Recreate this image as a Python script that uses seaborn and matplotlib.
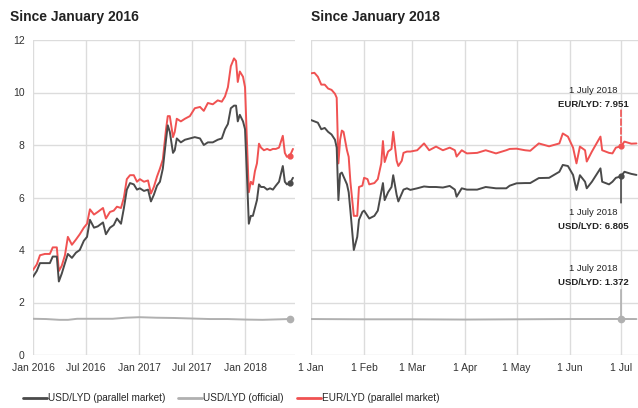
import pandas as pd
import matplotlib
matplotlib.use("Agg")
import matplotlib.pyplot as plt
from matplotlib import font_manager
import seaborn as sns

# ---- data: since January 2016 ----
dates_2016 = [
    "2016-01-01", "2016-01-14", "2016-01-25", "2016-02-11", "2016-02-28", "2016-03-09",
    "2016-03-23", "2016-03-30", "2016-04-09", "2016-04-20", "2016-04-30", "2016-05-14",
    "2016-05-28", "2016-06-10", "2016-06-24", "2016-07-05", "2016-07-15", "2016-07-29",
    "2016-08-11", "2016-08-29", "2016-09-08", "2016-09-22", "2016-10-05", "2016-10-16",
    "2016-10-30", "2016-11-09", "2016-11-19", "2016-11-30", "2016-12-13", "2016-12-24",
    "2017-01-03", "2017-01-17", "2017-01-31", "2017-02-10", "2017-02-20", "2017-03-03",
    "2017-03-13", "2017-03-23", "2017-04-03", "2017-04-09", "2017-04-16", "2017-04-27",
    "2017-05-03", "2017-05-10", "2017-05-24", "2017-06-07", "2017-06-24", "2017-07-11",
    "2017-07-29", "2017-08-11", "2017-08-25", "2017-09-11", "2017-09-28", "2017-10-12",
    "2017-10-23", "2017-11-02", "2017-11-12", "2017-11-23", "2017-11-30", "2017-12-06",
    "2017-12-13", "2017-12-24", "2017-12-31", "2018-01-06", "2018-01-13", "2018-01-20",
    "2018-01-27", "2018-02-03", "2018-02-10", "2018-02-17", "2018-02-24", "2018-03-06",
    "2018-03-17", "2018-03-27", "2018-04-06", "2018-04-16", "2018-04-27", "2018-05-10",
    "2018-05-17", "2018-05-24", "2018-06-04", "2018-06-14",
]
usd_parallel_2016 = [
    2.98, 3.20, 3.50, 3.50, 3.50, 3.75, 3.75, 2.80, 3.10, 3.50, 3.85, 3.70,
    3.90, 4.00, 4.35, 4.50, 5.15, 4.85, 4.90, 5.05, 4.60, 4.85, 4.95, 5.20,
    5.00, 5.60, 6.30, 6.55, 6.50, 6.30, 6.35, 6.25, 6.30, 5.85, 6.10, 6.45,
    6.60, 7.10, 8.20, 8.75, 8.50, 7.70, 7.80, 8.25, 8.10, 8.20, 8.25, 8.30,
    8.25, 8.00, 8.10, 8.10, 8.20, 8.25, 8.60, 8.80, 9.40, 9.50, 9.50, 8.90,
    9.15, 8.90, 8.60, 7.00, 5.00, 5.30, 5.30, 5.60, 5.90, 6.50, 6.40, 6.40,
    6.30, 6.35, 6.30, 6.45, 6.60, 7.20, 6.60, 6.50, 6.55, 6.75,
]
eur_parallel_2016 = [
    3.24, 3.45, 3.80, 3.85, 3.85, 4.10, 4.10, 3.20, 3.40, 3.80, 4.50, 4.20,
    4.40, 4.60, 4.85, 5.00, 5.55, 5.35, 5.45, 5.60, 5.20, 5.45, 5.50, 5.65,
    5.60, 6.00, 6.70, 6.85, 6.85, 6.60, 6.70, 6.60, 6.65, 6.15, 6.40, 6.80,
    7.10, 7.45, 8.60, 9.10, 9.10, 8.30, 8.50, 9.00, 8.90, 9.00, 9.10, 9.40,
    9.45, 9.30, 9.60, 9.55, 9.70, 9.65, 9.85, 10.20, 11.00, 11.30, 11.20, 10.40,
    10.80, 10.60, 10.20, 8.30, 6.20, 6.60, 6.50, 7.00, 7.30, 8.05, 7.90, 7.80,
    7.85, 7.80, 7.85, 7.85, 7.90, 8.35, 7.70, 7.55, 7.60, 7.85,
]
official_dates_2016 = [
    "2016-01-01", "2016-02-15", "2016-04-01", "2016-05-01", "2016-06-01", "2016-08-01",
    "2016-10-01", "2016-11-15", "2017-01-01", "2017-03-01", "2017-05-01", "2017-07-01",
    "2017-09-01", "2017-11-01", "2018-01-01", "2018-03-01", "2018-05-01", "2018-06-04",
    "2018-06-14",
]
usd_official_2016 = [
    1.38, 1.37, 1.34, 1.34, 1.38, 1.38, 1.38, 1.42, 1.44, 1.42, 1.41, 1.39,
    1.37, 1.37, 1.35, 1.34, 1.36, 1.372, 1.37,
]

# ---- data: since January 2018 ----
dates_2018 = [
    "2018-01-01", "2018-01-03", "2018-01-05", "2018-01-07", "2018-01-09", "2018-01-11",
    "2018-01-13", "2018-01-15", "2018-01-16", "2018-01-17", "2018-01-18", "2018-01-19",
    "2018-01-20", "2018-01-22", "2018-01-23", "2018-01-24", "2018-01-26", "2018-01-28",
    "2018-01-29", "2018-01-31", "2018-02-01", "2018-02-03", "2018-02-04", "2018-02-07",
    "2018-02-09", "2018-02-11", "2018-02-12", "2018-02-13", "2018-02-15", "2018-02-17",
    "2018-02-18", "2018-02-20", "2018-02-21", "2018-02-23", "2018-02-24", "2018-02-26",
    "2018-02-28", "2018-03-04", "2018-03-08", "2018-03-11", "2018-03-15", "2018-03-19",
    "2018-03-23", "2018-03-26", "2018-03-27", "2018-03-30", "2018-04-02", "2018-04-08",
    "2018-04-13", "2018-04-19", "2018-04-25", "2018-04-27", "2018-05-01", "2018-05-06",
    "2018-05-09", "2018-05-14", "2018-05-20", "2018-05-26", "2018-05-28", "2018-05-31",
    "2018-06-03", "2018-06-05", "2018-06-07", "2018-06-10", "2018-06-11", "2018-06-14",
    "2018-06-19", "2018-06-20", "2018-06-24", "2018-06-26", "2018-06-28", "2018-07-01",
    "2018-07-03", "2018-07-07", "2018-07-10",
]
usd_parallel_2018 = [
    8.95, 8.90, 8.85, 8.60, 8.65, 8.50, 8.40, 8.20, 7.90, 5.90, 6.90, 6.95,
    6.80, 6.50, 6.20, 5.50, 4.00, 4.50, 5.15, 5.45, 5.50, 5.30, 5.20, 5.30,
    5.50, 6.20, 6.55, 5.90, 6.20, 6.40, 6.85, 6.10, 5.85, 6.15, 6.30, 6.35,
    6.29, 6.35, 6.42, 6.40, 6.40, 6.38, 6.44, 6.30, 6.03, 6.35, 6.30, 6.30,
    6.40, 6.35, 6.35, 6.45, 6.54, 6.55, 6.55, 6.74, 6.75, 6.98, 7.24, 7.20,
    6.86, 6.29, 6.85, 6.60, 6.35, 6.60, 7.11, 6.60, 6.50, 6.60, 6.75, 6.805,
    6.98, 6.90, 6.86,
]
eur_parallel_2018 = [
    10.73, 10.75, 10.60, 10.30, 10.30, 10.15, 10.10, 9.95, 9.80, 7.30, 8.20, 8.55,
    8.50, 7.80, 7.55, 6.60, 5.30, 5.30, 6.40, 6.45, 6.75, 6.70, 6.50, 6.55,
    6.70, 7.30, 8.15, 7.35, 7.75, 7.85, 8.50, 7.40, 7.20, 7.40, 7.70, 7.75,
    7.75, 7.80, 8.06, 7.80, 7.94, 7.80, 7.90, 7.80, 7.56, 7.80, 7.68, 7.70,
    7.80, 7.68, 7.80, 7.85, 7.86, 7.80, 7.78, 8.06, 7.95, 8.06, 8.44, 8.32,
    7.90, 7.30, 7.94, 7.80, 7.37, 7.75, 8.32, 7.80, 7.70, 7.68, 7.90, 7.951,
    8.13, 8.05, 8.06,
]
official_dates_2018 = [
    "2018-01-01", "2018-02-01", "2018-03-01", "2018-04-01", "2018-05-01", "2018-06-01",
    "2018-07-01", "2018-07-10",
]
usd_official_2018 = [1.37, 1.36, 1.36, 1.35, 1.36, 1.37, 1.372, 1.37]

left_ticks = ["2016-01-01", "2016-07-01", "2017-01-01", "2017-07-01", "2018-01-01"]
left_labels = ["Jan 2016", "Jul 2016", "Jan 2017", "Jul 2017", "Jan 2018"]
right_ticks = ["2018-01-01", "2018-02-01", "2018-03-01", "2018-04-01",
               "2018-05-01", "2018-06-01", "2018-07-01"]
right_labels = ["1 Jan", "1 Feb", "1 Mar", "1 Apr", "1 May", "1 Jun", "1 Jul"]

BLACK = "#4a4a4a"
GREY = "#b0b0b0"
RED = "#f05252"


def main():
    sns.set_style("whitegrid", {"grid.color": "#dcdcdc", "axes.edgecolor": "#dcdcdc"})
    names = {f.name for f in font_manager.fontManager.ttflist}
    narrow = "Liberation Sans Narrow" in names
    plt.rcParams["font.family"] = ["Liberation Sans", "DejaVu Sans"]
    cond = ["Liberation Sans Narrow", "Liberation Sans"] if narrow else ["Liberation Sans"]
    title_size = 12 if narrow else 10
    note_size = 7.8 if narrow else 6.8

    fig = plt.figure(figsize=(6.38, 4.08), dpi=100)
    ax1 = fig.add_axes([33 / 638, 1 - 355 / 408, 262 / 638, 315 / 408])
    ax2 = fig.add_axes([311 / 638, 1 - 355 / 408, 327 / 638, 315 / 408])

    left = pd.DataFrame({"date": pd.to_datetime(dates_2016),
                         "usd": usd_parallel_2016, "eur": eur_parallel_2016})
    left_off = pd.DataFrame({"date": pd.to_datetime(official_dates_2016),
                             "usd": usd_official_2016})
    right = pd.DataFrame({"date": pd.to_datetime(dates_2018),
                          "usd": usd_parallel_2018, "eur": eur_parallel_2018})
    right_off = pd.DataFrame({"date": pd.to_datetime(official_dates_2018),
                              "usd": usd_official_2018})

    for ax, df, off in [(ax1, left, left_off), (ax2, right, right_off)]:
        sns.lineplot(data=off, x="date", y="usd", color=GREY, lw=1.4, ax=ax)
        sns.lineplot(data=df, x="date", y="eur", color=RED, lw=1.4, ax=ax)
        sns.lineplot(data=df, x="date", y="usd", color=BLACK, lw=1.4, ax=ax)
        ax.set_ylim(0, 12)
        ax.set_yticks(range(0, 13, 2))
        ax.set_xlabel("")
        ax.set_ylabel("")
        ax.grid(True, lw=1)
        ax.tick_params(length=0, labelsize=7.5, colors="#333333")
        for s in ax.spines.values():
            s.set_visible(False)

    # left panel
    ax1.set_xlim(pd.Timestamp("2016-01-01"), pd.Timestamp("2018-06-21"))
    ax1.set_xticks(pd.to_datetime(left_ticks))
    ax1.set_xticklabels(left_labels)
    ax1.tick_params(axis="y", pad=6)
    ax1.tick_params(axis="x", pad=6)
    hl = pd.Timestamp("2018-06-04")
    ax1.plot([hl], [7.6], "o", color=RED, ms=3.5)
    ax1.plot([hl], [6.55], "o", color=BLACK, ms=3.5)
    ax1.plot([hl], [1.372], "o", color=GREY, ms=4.5)

    # right panel
    ax2.set_xlim(pd.Timestamp("2018-01-01"), pd.Timestamp("2018-07-10 22:00"))
    ax2.set_xticks(pd.to_datetime(right_ticks))
    ax2.set_xticklabels(right_labels)
    ax2.tick_params(axis="x", pad=6)
    ax2.set_yticklabels([])

    d = pd.Timestamp("2018-07-01")
    ax2.annotate("", xy=(d, 7.951), xytext=(0, 26), textcoords="offset points",
                 arrowprops=dict(arrowstyle="-", color=RED, ls="--", lw=1.2,
                                 shrinkA=0, shrinkB=0))
    ax2.annotate("", xy=(d, 6.805), xytext=(0, -19), textcoords="offset points",
                 arrowprops=dict(arrowstyle="-", color=BLACK, lw=1.2,
                                 shrinkA=0, shrinkB=0))
    ax2.annotate("", xy=(d, 1.372), xytext=(0, 21), textcoords="offset points",
                 arrowprops=dict(arrowstyle="-", color=GREY, lw=1.2,
                                 shrinkA=0, shrinkB=0))
    ax2.plot([d], [7.951], "o", color=RED, ms=3.5)
    ax2.plot([d], [6.805], "o", color=BLACK, ms=3.5)
    ax2.plot([d], [1.372], "o", color=GREY, ms=4.5)

    notes = [(7.951, 40, 30, "EUR/LYD: 7.951"),
             (6.805, -26, -36, "USD/LYD: 6.805"),
             (1.372, 36, 26, "USD/LYD: 1.372")]
    for y, off1, off2, txt in notes:
        ax2.annotate("1 July 2018", xy=(d, y), xytext=(-20, off1),
                     textcoords="offset points", ha="center", va="center",
                     fontsize=note_size, family=cond, color="#222222")
        ax2.annotate(txt, xy=(d, y), xytext=(-20, off2),
                     textcoords="offset points", ha="center", va="center",
                     fontsize=note_size, family=cond, weight="bold", color="#222222")

    fig.text(10 / 638, 1 - 21 / 408, "Since January 2016", fontsize=title_size,
             weight="bold", family=cond, color="#222222", va="baseline")
    fig.text(311 / 638, 1 - 21 / 408, "Since January 2018", fontsize=title_size,
             weight="bold", family=cond, color="#222222", va="baseline")

    handles = [plt.Line2D([], [], color=BLACK, lw=2),
               plt.Line2D([], [], color=GREY, lw=2),
               plt.Line2D([], [], color=RED, lw=2)]
    fig.legend(handles, ["USD/LYD (parallel market)", "USD/LYD (official)",
                         "EUR/LYD (parallel market)"],
               loc="center left", bbox_to_anchor=(23 / 638, 1 - 398 / 408),
               ncol=3, frameon=False, fontsize=7.2, handlelength=2.4,
               handletextpad=0.1, columnspacing=1.3, borderpad=0,
               borderaxespad=0)

    fig.savefig("out.png", dpi=100)


if __name__ == "__main__":
    main()
